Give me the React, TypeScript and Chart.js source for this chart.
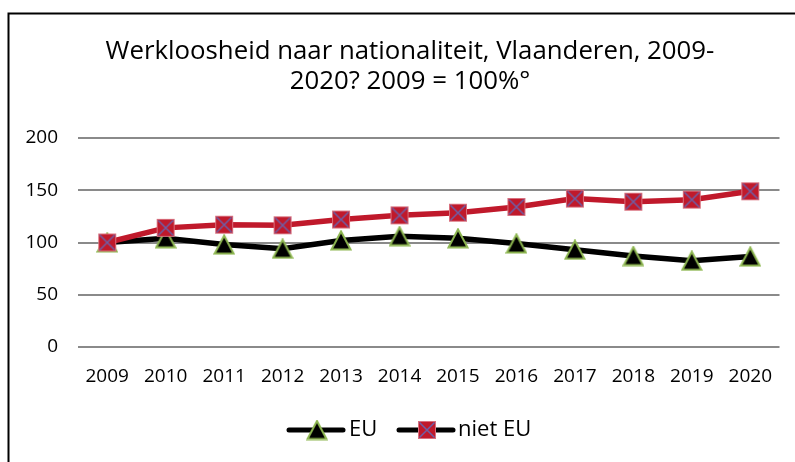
import React, { useEffect, useRef } from "react";
import { Chart, registerables } from "chart.js";

Chart.register(...registerables);

const years = ["2009", "2010", "2011", "2012", "2013", "2014", "2015", "2016", "2017", "2018", "2019", "2020"];
const euValues = [100, 104, 98, 94, 102, 106, 104, 99, 93, 87, 82.5, 86.5];
const nietEuValues = [100, 114, 117, 116.5, 122, 126, 128.5, 134, 142, 139, 141, 149];
const yTicks = [0, 50, 100, 150, 200];
const titleLines = ["Werkloosheid naar nationaliteit, Vlaanderen, 2009-", "2020? 2009 = 100%°"];
const seriesNames = ["EU", "niet EU"];

const RED = "#C0192B";
const FONT = "'Open Sans'";

function makeSquare(): HTMLCanvasElement {
  const c = document.createElement("canvas");
  c.width = 20;
  c.height = 20;
  const g = c.getContext("2d")!;
  g.fillStyle = RED;
  g.fillRect(1, 1, 18, 18);
  g.strokeStyle = "#D8707E";
  g.lineWidth = 1;
  g.strokeRect(1.5, 1.5, 17, 17);
  g.strokeStyle = "#6E5FA6";
  g.lineWidth = 1.5;
  g.beginPath();
  g.moveTo(2.5, 2.5);
  g.lineTo(17.5, 17.5);
  g.moveTo(17.5, 2.5);
  g.lineTo(2.5, 17.5);
  g.stroke();
  return c;
}

function makeTriangle(): HTMLCanvasElement {
  const c = document.createElement("canvas");
  c.width = 22;
  c.height = 21;
  const g = c.getContext("2d")!;
  g.beginPath();
  g.moveTo(11, 1.5);
  g.lineTo(20.5, 19.5);
  g.lineTo(1.5, 19.5);
  g.closePath();
  g.fillStyle = "#000";
  g.fill();
  g.strokeStyle = "#8DB650";
  g.lineWidth = 2;
  g.lineJoin = "miter";
  g.stroke();
  return c;
}

export default function App() {
  const ref = useRef<HTMLCanvasElement | null>(null);

  useEffect(() => {
    const canvas = ref.current!;
    const square = makeSquare();
    const tri = makeTriangle();

    const framePlugin = {
      id: "frameAndTitle",
      beforeDraw(chart: any) {
        const ctx = chart.ctx;
        ctx.save();
        ctx.fillStyle = "#fff";
        ctx.fillRect(0, 0, chart.width, chart.height);
        ctx.strokeStyle = "#000";
        ctx.lineWidth = 2;
        ctx.strokeRect(8.5, 13.5, 820, 470);
        ctx.restore();
      },
      afterDraw(chart: any) {
        const ctx = chart.ctx;
        ctx.save();
        // title
        ctx.fillStyle = "#000";
        ctx.font = `25.8px ${FONT}`;
        ctx.textAlign = "center";
        ctx.textBaseline = "alphabetic";
        ctx.fillText(titleLines[0], 410, 59);
        ctx.fillText(titleLines[1], 410, 89);
        // legend
        const ly = 430;
        const items = [
          { x0: 289, x1: 343, mx: 317, img: tri, tx: 349, label: seriesNames[0] },
          { x0: 399, x1: 453, mx: 427, img: square, tx: 458, label: seriesNames[1] },
        ];
        ctx.font = `22px ${FONT}`;
        ctx.textAlign = "left";
        ctx.textBaseline = "middle";
        for (const it of items) {
          ctx.strokeStyle = "#000";
          ctx.lineWidth = 5;
          ctx.lineCap = "round";
          ctx.beginPath();
          ctx.moveTo(it.x0, ly);
          ctx.lineTo(it.x1, ly);
          ctx.stroke();
          ctx.drawImage(it.img, it.mx - it.img.width / 2, ly - it.img.height / 2);
          ctx.fillStyle = "#000";
          ctx.fillText(it.label, it.tx, ly);
        }
        ctx.restore();
      },
    };

    const chart = new Chart(canvas, {
      type: "line",
      data: {
        labels: years,
        datasets: [
          {
            label: seriesNames[0],
            data: euValues,
            borderColor: "#000",
            borderWidth: 5.5,
            pointStyle: tri as any,
            pointRadius: 10,
            order: 2,
            tension: 0,
          },
          {
            label: seriesNames[1],
            data: nietEuValues,
            borderColor: RED,
            borderWidth: 5.5,
            pointStyle: square as any,
            pointRadius: 10,
            order: 1,
            tension: 0,
          },
        ],
      },
      options: {
        animation: false,
        responsive: false,
        maintainAspectRatio: false,
        layout: { padding: { top: 138, left: 0, right: 15, bottom: 75 } },
        plugins: {
          legend: { display: false },
          title: { display: false },
          tooltip: { enabled: false },
        },
        scales: {
          x: {
            offset: true,
            grid: { display: false, drawTicks: false, offset: true },
            border: { display: false },
            ticks: { padding: 18, color: "#000", font: { family: "Open Sans", size: 19 }, maxRotation: 0, autoSkip: false },
            afterFit(scale: any) {
              scale.height = 40;
            },
          },
          y: {
            min: 0,
            max: 200,
            afterBuildTicks(scale: any) {
              scale.ticks = yTicks.map((v) => ({ value: v }));
            },
            grid: { color: "#8A8A8A", lineWidth: 2, drawTicks: false },
            border: { display: false },
            ticks: { padding: 20, color: "#000", font: { family: "Open Sans", size: 19 } },
            afterFit(scale: any) {
              scale.width = 78;
            },
          },
        },
      },
      plugins: [framePlugin],
    });

    return () => chart.destroy();
  }, []);

  return (
    <canvas
      ref={ref}
      width={795}
      height={462}
      style={{ position: "fixed", left: 0, top: 0, width: 795, height: 462 }}
    />
  );
}
